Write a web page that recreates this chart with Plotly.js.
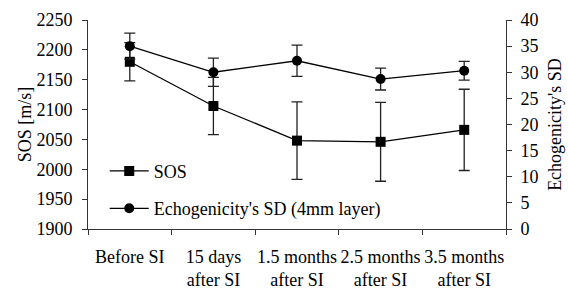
<!DOCTYPE html>
<html>
<head>
<meta charset="utf-8">
<script src="https://cdn.plot.ly/plotly-3.0.1.min.js"></script>
<style>html,body{margin:0;padding:0;background:#fff;}#chart{width:568px;height:289px;}</style>
</head>
<body>
<div id="chart"></div>
<script>
const categories = ["Before SI", "15 days<br>after SI", "1.5 months<br>after SI", "2.5 months<br>after SI", "3.5 months<br>after SI"];
const sosValues = [2180, 2106, 2048, 2046, 2066];
const sosErrors = [32, 48, 65, 66, 68];
const echoValues = [35.0, 30.0, 32.2, 28.7, 30.3];
const echoErrors = [2.5, 2.7, 3.0, 2.1, 1.8];
const leftTicks = [1900, 1950, 2000, 2050, 2100, 2150, 2200, 2250];
const rightTicks = [0, 5, 10, 15, 20, 25, 30, 35, 40];

function f() { return {family: "Liberation Serif", size: 18, color: "#000"}; }
const axisColor = "#333";

const traces = [
  {
    x: categories, y: sosValues, name: "SOS", type: "scatter", mode: "lines+markers",
    yaxis: "y", legendgroup: "a",
    line: {color: "#000", width: 1.3},
    marker: {symbol: "square", size: 10, color: "#000"},
    error_y: {type: "data", array: sosErrors, visible: true, color: "#222", thickness: 1.3, width: 5.5}
  },
  {
    x: categories, y: echoValues, name: "Echogenicity's SD (4mm layer)", type: "scatter", mode: "lines+markers",
    yaxis: "y2", legendgroup: "b",
    line: {color: "#000", width: 1.3},
    marker: {symbol: "circle", size: 10, color: "#000"},
    error_y: {type: "data", array: echoErrors, visible: true, color: "#222", thickness: 1.3, width: 5.5}
  }
];

const layout = {
  width: 568, height: 289,
  margin: {l: 88, r: 62, t: 20, b: 60},
  paper_bgcolor: "#fff", plot_bgcolor: "#fff",
  font: f(),
  showlegend: true,
  legend: {x: 0.04, y: 0.365, xanchor: "left", yanchor: "top", bgcolor: "rgba(0,0,0,0)",
           traceorder: "grouped", tracegroupgap: 11, itemwidth: 39, font: f()},
  xaxis: {
    type: "category", range: [-0.5, 4.5], tickson: "boundaries", tickangle: 0,
    showline: true, linecolor: axisColor, linewidth: 1,
    ticks: "outside", ticklen: 5, tickcolor: axisColor, tickwidth: 1, ticklabelstandoff: 11,
    showgrid: false, zeroline: false, tickfont: f()
  },
  xaxis2: {
    overlaying: "x", anchor: "y", range: [-0.5, 4.5], tick0: -0.5, dtick: 1,
    ticks: "inside", ticklen: 5, tickcolor: axisColor, tickwidth: 1,
    showticklabels: false, showline: false, showgrid: false, zeroline: false
  },
  yaxis: {
    range: [1900, 2250], tickvals: leftTicks, ticktext: leftTicks.map(String),
    showline: true, linecolor: axisColor, linewidth: 1,
    ticks: "outside", ticklen: 5, tickcolor: axisColor, tickwidth: 1, ticklabelstandoff: 6,
    showgrid: false, zeroline: false, tickfont: f(),
    title: {text: "SOS [m/s]", font: f(), standoff: 0}
  },
  yaxis2: {
    overlaying: "y", side: "right", anchor: "x", range: [0, 40], tickvals: rightTicks, ticktext: rightTicks.map(String),
    showline: true, linecolor: axisColor, linewidth: 1,
    ticks: "outside", ticklen: 5, tickcolor: axisColor, tickwidth: 1, ticklabelstandoff: 5,
    showgrid: false, zeroline: false, tickfont: f(),
    title: {text: "Echogenicity's SD", font: f(), standoff: 10}
  },
  yaxis3: {
    overlaying: "y", side: "left", anchor: "x", range: [1900, 2250], tickvals: leftTicks,
    ticks: "inside", ticklen: 5, tickcolor: axisColor, tickwidth: 1,
    showticklabels: false, showline: false, showgrid: false, zeroline: false
  },
  yaxis4: {
    overlaying: "y", side: "right", anchor: "x", range: [0, 40], tickvals: rightTicks,
    ticks: "inside", ticklen: 5, tickcolor: axisColor, tickwidth: 1,
    showticklabels: false, showline: false, showgrid: false, zeroline: false
  }
};

Plotly.newPlot("chart", traces, layout, {staticPlot: true, displayModeBar: false});
</script>
</body>
</html>
